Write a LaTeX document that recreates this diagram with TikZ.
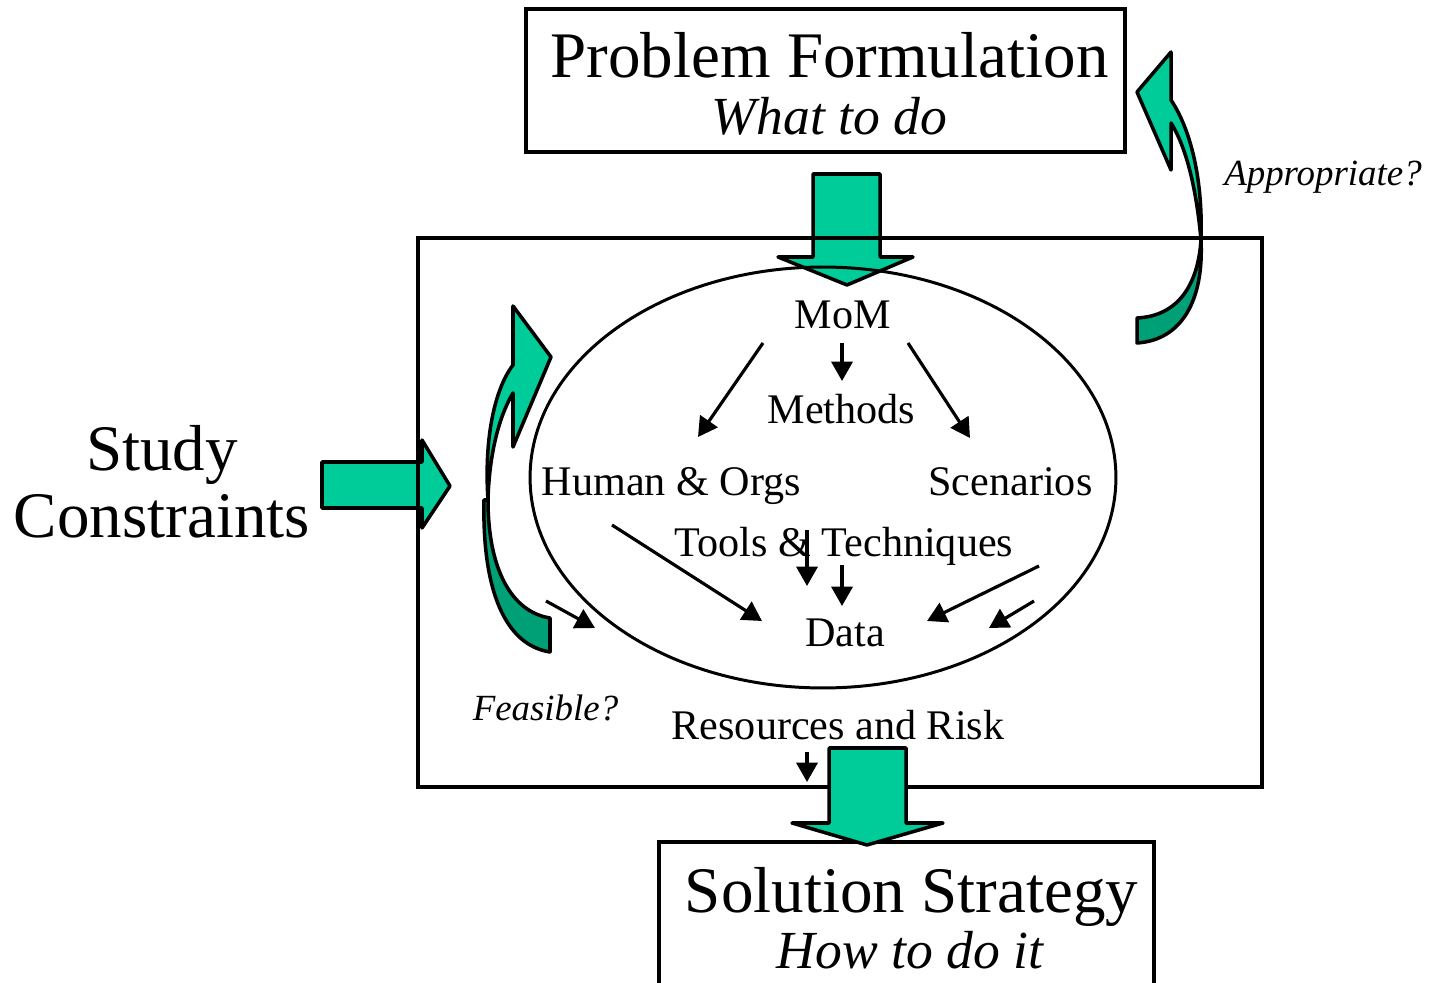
\documentclass[tikz,border=0pt]{standalone}
\usepackage{fontspec}
\setmainfont{Liberation Serif}
\usetikzlibrary{shapes.geometric,arrows.meta}
\definecolor{gLight}{HTML}{00CC99}
\definecolor{gDark}{HTML}{00A077}
\begin{document}
\begin{tikzpicture}[x=0.02cm,y=-0.02cm,
  frame/.style={draw=black,line width=1.9pt,inner sep=0pt},
  garrow/.style={draw=black,line width=2pt,line join=round,fill=gLight},
  gdark/.style={draw=black,line width=2pt,line join=round,fill=gDark},
  title/.style={inner sep=0pt,anchor=base,font=\fontsize{37}{40}\selectfont},
  subtitle/.style={inner sep=0pt,anchor=base,font=\fontsize{30.5}{33}\selectfont\itshape},
  lbl/.style={inner sep=0pt,anchor=base,font=\fontsize{24}{26}\selectfont},
  qlbl/.style={inner sep=0pt,anchor=base,font=\fontsize{21}{23}\selectfont\itshape},
  sarr/.style={line width=1.8pt,-{Triangle[length=11pt,width=12pt]}}]
\useasboundingbox (0,0) rectangle (1431,983);

% big green arrows (behind frames)
\path[garrow] (813,174) -- (880,174) -- (880,257) -- (913,257) -- (847,285) -- (778,257) -- (813,257) -- cycle;
\path[garrow] (322,462) -- (422,462) -- (422,440) -- (450,486) -- (422,528) -- (422,508) -- (322,508) -- cycle;

% curved arrow: Appropriate?
\path[garrow] (1171,100) .. controls (1191,130) and (1203,180) .. (1201,240)
  .. controls (1197,195) and (1188,150) .. (1171,123)
  -- (1171,170) -- (1137,92) -- (1171,52) -- cycle;
\path[gdark] (1201,240) .. controls (1198,285) and (1178,316) .. (1137,318)
  -- (1137,343) .. controls (1182,340) and (1204,300) .. (1201,240) -- cycle;

% curved arrow: Feasible?
\path[garrow] (513,306) -- (551,357) -- (513,447) -- (513,393)
  .. controls (497,420) and (489,460) .. (488,500)
  .. controls (484,440) and (494,390) .. (513,365) -- cycle;
\path[gdark] (488,500) .. controls (488,570) and (512,612) .. (550,618)
  -- (550,652) .. controls (505,645) and (482,590) .. (484,500) -- cycle;

% frames
\node[frame,minimum width=11.98cm,minimum height=2.86cm] (pfbox) at (825.5,80.5) {};
\node[frame,minimum width=16.88cm,minimum height=10.98cm] (mainbox) at (840,512.5) {};
\node[draw=black,line width=1.7pt,ellipse,inner sep=0pt,minimum width=11.72cm,minimum height=8.42cm] (ell) at (823,477.5) {};
\node[frame,minimum width=9.9cm,minimum height=3.36cm] (ssbox) at (906.5,926) {};

% bottom big arrow (above frames)
\path[garrow] (829,748) -- (906,748) -- (906,823) -- (943,823) -- (867,845) -- (792,823) -- (829,823) -- cycle;

% texts
\node[title] (pf) at (829.5,78) {Problem Formulation};
\node[subtitle] (wtd) at (829.5,135) {What to do};
\node[title] (ss) at (911.5,912) {Solution Strategy};
\node[subtitle] (htd) at (910,968) {How to do it};
\node[title] (study) at (162,470) {Study};
\node[title] (constr) at (162,537) {Constraints};
\node[qlbl] (appr) at (1323,186) {Appropriate?};
\node[qlbl] (feas) at (545.5,720) {Feasible?};
\node[lbl] (mom) at (843,329) {MoM};
\node[lbl] (meth) at (841.5,423) {Methods};
\node[lbl] (human) at (671.5,495) {Human \& Orgs};
\node[lbl] (scen) at (1010.5,495) {Scenarios};
\node[lbl] (tools) at (844,556) {Tools \& Techniques};
\node[lbl] (data) at (845,646) {Data};
\node[lbl] (res) at (838,739) {Resources and Risk};

% small arrow end points
\coordinate (a1s) at (842,343); \coordinate (a1e) at (842,381);
\coordinate (a2s) at (763,343); \coordinate (a2e) at (698,437);
\coordinate (a3s) at (908,343); \coordinate (a3e) at (970,438);
\coordinate (a4s) at (612,525); \coordinate (a4e) at (762,621);
\coordinate (a5s) at (807,530); \coordinate (a5e) at (807,586);
\coordinate (a6s) at (842,565); \coordinate (a6e) at (842,606);
\coordinate (a7s) at (1039,566); \coordinate (a7e) at (927,621);
\coordinate (a8s) at (1034,601); \coordinate (a8e) at (989,628);
\coordinate (a9s) at (546,601); \coordinate (a9e) at (595,628);
\coordinate (a10s) at (807,752); \coordinate (a10e) at (807,782);
\foreach \i in {1,...,10} {\draw[sarr] (a\i s) -- (a\i e);}
\end{tikzpicture}
\end{document}
